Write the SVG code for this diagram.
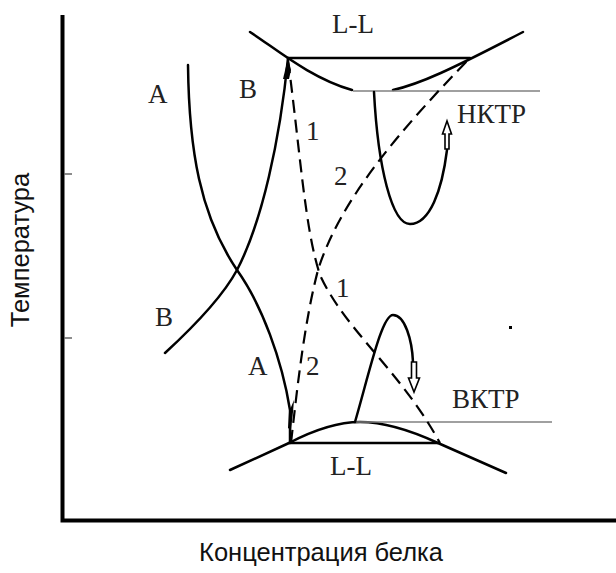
<svg xmlns="http://www.w3.org/2000/svg" width="616" height="573" viewBox="0 0 616 573">
<style>
.ax{stroke:#000;stroke-width:4;fill:none}
.tick{stroke:#666;stroke-width:1.5}
.c{stroke:#000;stroke-width:2.5;fill:none;stroke-linecap:round;stroke-linejoin:round}
.d{stroke:#000;stroke-width:2.2;fill:none;stroke-dasharray:13 7}
.g{stroke:#808080;stroke-width:1.6}
.lbl{font-family:"Liberation Serif","Times New Roman",serif;font-size:27px;fill:#222}
.axl{font-family:"Liberation Sans",Arial,sans-serif;font-size:25.5px;fill:#111}
.arr{fill:#fff;stroke:#000;stroke-width:1.6}
</style>
<rect width="616" height="573" fill="#fff"/>
<g id="axes">
<path class="ax" d="M62.5,15 V520.5 H616"/>
<line class="tick" x1="64" y1="174" x2="72" y2="174"/>
<line class="tick" x1="64" y1="338" x2="72" y2="338"/>
<text class="axl" text-anchor="middle" transform="translate(29,250) rotate(-90)">Температура</text>
<text class="axl" x="321" y="561" text-anchor="middle">Концентрация белка</text>
</g>
<g id="curves">
<!-- upper binodal -->
<path class="c" d="M250,32 C275,48 310,78 352,90"/>
<path class="c" d="M393,90 C420,84 450,70 523,32"/>
<line class="c" x1="288" y1="58" x2="470" y2="58"/>
<line class="g" x1="353" y1="91" x2="540" y2="91"/>
<!-- lower binodal -->
<path class="c" d="M230,470 L289,443 C310,432 335,422 360,422 C385,422 412,431 438,443 L506,473"/>
<line class="c" x1="289" y1="443" x2="438" y2="443"/>
<line class="g" x1="355" y1="422" x2="552" y2="422"/>
<!-- LCST loop -->
<path class="c" d="M374,92 C378,168 392,224 410,224 C430,224 442,190 447,150"/>
<!-- UCST loop -->
<path class="c" d="M355,422 C370,370 382,315 393,315 C405,315 412,340 413,362"/>
<!-- A and B curves -->
<path class="c" d="M188,65 C189,150 200,215 237,270 C262,305 282,360 290,410 L290,443"/>
<path class="c" d="M165,353 C190,330 222,298 237,270 C262,222 280,140 288,58"/>
<polygon points="288,58 291,70 289,79 283,79" fill="#000"/>
<polygon points="294,400 293,412 291,430 288,428 289,412" fill="#000"/>
<!-- dashed -->
<path class="d" d="M288,60 C300,150 305,230 320,275 C345,330 400,370 440,443"/>
<path class="d" d="M291,443 C298,380 305,320 318,270 C340,200 400,130 470,58"/>
<!-- hollow arrows -->
<polygon class="arr" points="445,149 449,149 449,134 451.5,134 447,121 442.5,134 445,134"/>
<polygon class="arr" points="411.5,362 416.5,362 416.5,378 419.5,378 414,392 408.5,378 411.5,378"/>
<rect x="509" y="326" width="3" height="3" fill="#000"/>
</g>
<g id="labels">
<text class="lbl" x="332" y="33">L-L</text>
<text class="lbl" x="148" y="103">A</text>
<text class="lbl" x="239" y="98">B</text>
<text class="lbl" x="306" y="140">1</text>
<text class="lbl" x="457" y="123">НКТР</text>
<text class="lbl" x="334" y="185">2</text>
<text class="lbl" x="155" y="326">B</text>
<text class="lbl" x="336" y="297">1</text>
<text class="lbl" x="248" y="375">A</text>
<text class="lbl" x="306" y="375">2</text>
<text class="lbl" x="452" y="408">ВКТР</text>
<text class="lbl" x="330" y="475">L-L</text>
</g>
</svg>
